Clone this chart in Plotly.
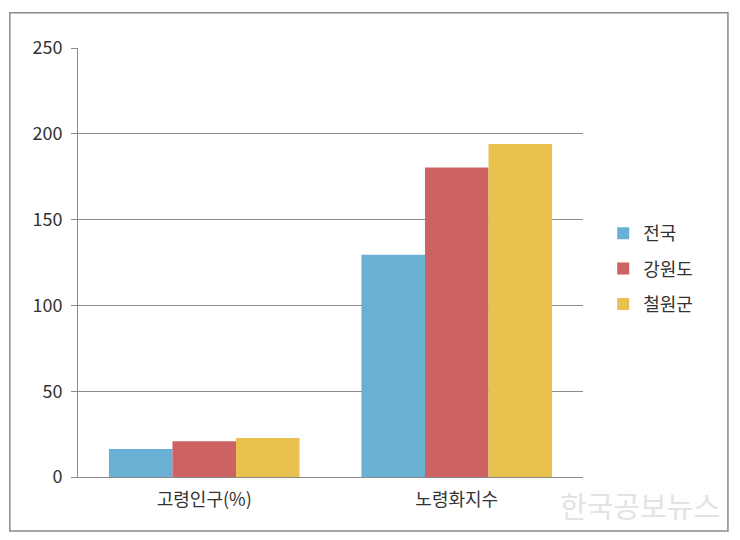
import plotly.graph_objects as go

categorias = ["고령인구(%)", "노령화지수"]
regiones = ["전국", "강원도", "철원군"]
valores = {
    "전국": [16.3, 129.5],
    "강원도": [20.9, 180.4],
    "철원군": [22.8, 194.0],
}
colores = {"전국": "#6aafd4", "강원도": "#cc6262", "철원군": "#e9c14f"}
ticks_y = [0, 50, 100, 150, 200, 250]

fuente = "Noto Sans CJK KR"

fig = go.Figure()
for i, r in enumerate(regiones):
    fig.add_trace(go.Bar(x=categorias, y=valores[r], name=r,
                         marker=dict(color=colores[r], line=dict(width=0)),
                         legendgroup=r))

# la pagina tiene 8px de margen en body, por eso 732x532
fig.update_layout(
    width=732, height=532,
    margin=dict(l=70, r=157, t=40, b=63),
    paper_bgcolor="white", plot_bgcolor="white",
    barmode="group", bargap=0.245, bargroupgap=0,
    font=dict(family=fuente, size=18, color="#333333"),
    legend=dict(x=1.04, y=0.485, xanchor="left", yanchor="middle",
                tracegroupgap=9, font=dict(size=18, color="#333333")),
    showlegend=True,
)
fig.update_yaxes(range=[0, 250], tickvals=ticks_y, showgrid=True,
                 gridcolor="#8a8a8a", gridwidth=1, showline=True,
                 linecolor="#8a8a8a", linewidth=1, ticks="outside",
                 ticklen=6, tickcolor="#8a8a8a", zeroline=False,
                 ticklabelstandoff=5)
fig.update_xaxes(showline=True, linecolor="#8a8a8a", linewidth=1,
                 ticks="", ticklabelstandoff=6)

# marco exterior
fig.add_shape(type="rect", xref="paper", yref="paper",
              x0=-0.135, x1=1.287, y0=-0.126, y1=1.082,
              line=dict(color="#8a8a8a", width=1.5))

# marca de agua
fig.add_annotation(text="한국공보뉴스", xref="paper", yref="paper",
                   x=1.276, y=-0.065, xanchor="right", yanchor="middle",
                   showarrow=False, font=dict(size=29, color="#e3e3e3"))

fig.write_html("out.html")
